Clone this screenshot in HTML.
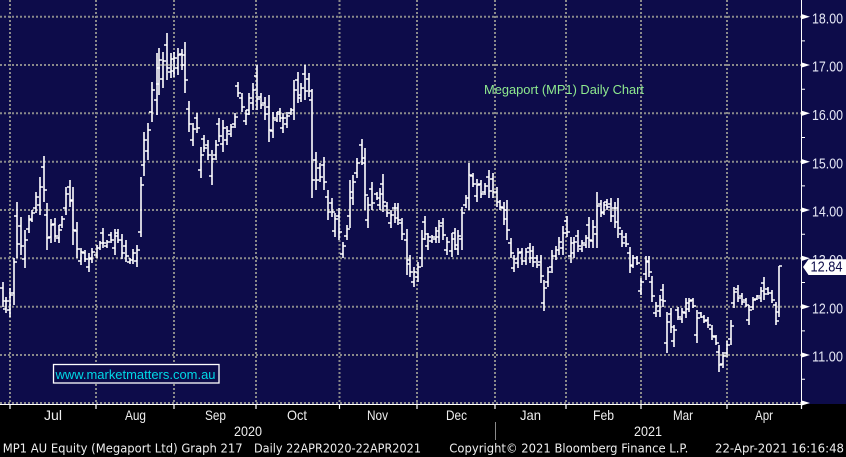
<!DOCTYPE html>
<html><head><meta charset="utf-8"><style>
html,body{margin:0;padding:0;background:#000;}
svg{display:block;}
</style></head><body>
<svg width="846" height="457" viewBox="0 0 846 457" xmlns="http://www.w3.org/2000/svg">
<rect x="0" y="0" width="846" height="457" fill="#000"/>
<rect x="0" y="0" width="846" height="404" fill="#0d0c4a"/>
<!-- grid -->
<g stroke="#8a8a8a" stroke-width="2" stroke-dasharray="2 2" fill="none">
<path d="M0 16.7H801M0 65H801M0 113.3H801M0 161.7H801M0 210H801M0 258.3H801M0 306.7H801M0 355H801M0 403H801"/>
<path d="M10 0V403M96 0V403M174 0V403M256 0V403M339.5 0V403M417 0V403M495 0V403M566 0V403M641 0V403M727 0V403"/>
</g>
<!-- watermark -->
<rect x="53.5" y="364.5" width="165.5" height="18.5" fill="#0d0c4a" stroke="#ffffff" stroke-width="1.3"/>
<text x="55.5" y="378.8" font-family="Liberation Sans, Arial, sans-serif" font-size="13" fill="#00d9e6" textLength="160" lengthAdjust="spacingAndGlyphs">www.marketmatters.com.au</text>
<!-- title -->
<text x="484" y="93.8" font-family="Liberation Sans, Arial, sans-serif" font-size="13" fill="#8fea8f" textLength="160" lengthAdjust="spacingAndGlyphs">Megaport (MP1) Daily Chart</text>
<!-- bars -->
<path fill="none" stroke="#ffffff" stroke-width="1.6" d="M3 282V307M6 297V313M10 288V317M14 258V305M17 202V258M21 217V255M25 230V268M29 215V233M32 210V222M36 192V213M40 177V215M44 156V202M47 203V250M51 219V243M55 218V242M59 225V243M62 216V228M66 187V215M70 180V207M73 187V245M77 222V258M81 248V265M85 250V262M89 253V272M92 248V263M97 245V258M100 241V250M103 228V248M107 240V248M111 232V243M115 229V255M118 229V243M122 234V259M126 240V262M130 258V264M133 249V264M137 245V267M141 177V237M144 132V176M148 123V160M152 82V122M157 53V115M159 48V95M163 52V88M167 33V80M171 53V78M174 52V77M178 48V75M182 49V70M185 42V93M189 101V132M193 123V146M197 113V133M201 147V178M204 135V152M208 140V160M212 150V185M216 140V160M219 118V142M223 120V152M227 126V145M231 124V137M235 113V128M238 82V97M242 93V112M246 110V125M249 93V115M253 83V110M257 65V110M261 93V109M265 97V120M269 95V142M273 112V138M277 112V122M280 108V122M283 113V133M287 112V128M291 108V115M294 80V120M298 72V103M301 83V102M305 65V100M309 73V97M312 89V198M316 152V190M320 163V182M324 157V190M328 190V220M332 198V217M335 213V237M339 208V240M343 242V258M347 225V240M350 180V228M353 175V205M357 158V178M362 139V165M365 148V210M368 197V228M372 182V210M377 192V200M380 188V210M383 174V212M387 202V217M391 210V228M395 203V223M398 203V225M402 218V240M407 229V275M410 255V277M414 267V287M418 262V282M422 230V267M425 216V240M428 233V250M432 235V243M436 227V243M439 220V243M443 218V240M447 237V255M452 233V257M455 228V250M458 230V255M462 207V250M466 195V208M469 163V210M473 173V187M477 179V202M481 180V198M485 183V195M489 170V198M493 173V198M497 187V207M500 200V210M504 202V225M507 200V240M511 238V258M514 255V272M518 248V268M522 248V265M526 248V265M530 243V263M533 246V267M537 255V268M541 255V283M544 280V311M548 267V287M552 250V273M556 246V260M559 237V255M563 226V255M567 216V237M571 237V263M574 237V258M578 230V252M582 240V252M586 235V248M589 217V248M593 220V248M597 192V248M601 200V217M604 202V215M607 199V210M611 198V222M615 202V228M618 198V238M622 230V247M626 233V247M630 247V273M633 255V268M637 256V265M641 278V295M646 256V280M649 256V277M652 276V302M656 302V317M660 295V317M663 284V307M667 312V353M671 308V333M674 325V347M678 307V320M682 308V323M686 298V318M689 298V312M693 298V308M697 310V343M701 312V318M704 315V323M708 317V328M712 325V340M716 335V345M719 345V372M723 352V368M727 341V357M731 320V345M734 287V308M738 285V302M742 293V305M746 298V307M749 305V325M753 297V310M757 295V300M761 287V302M764 277V300M768 287V295M772 290V303M776 302V325M779 266V317"/>
<path fill="none" stroke="#ffffff" stroke-width="1.5" d="M0 288h3M3 301h3M3 309h3M6 301h3M7 310h3M10 295h3M11 293h3M14 262h3M14 216h3M17 244h3M18 226h3M21 246h3M22 259h3M25 240h3M26 229h3M29 220h3M29 219h3M32 213h3M33 208h3M36 197h3M37 205h3M40 187h3M41 167h3M44 190h3M44 215h3M47 238h3M48 237h3M51 225h3M52 224h3M55 236h3M56 238h3M59 230h3M59 225h3M62 219h3M63 208h3M66 194h3M67 187h3M70 200h3M70 201h3M73 230h3M74 231h3M77 249h3M78 261h3M81 252h3M82 253h3M85 259h3M86 267h3M89 258h3M89 259h3M92 252h3M94 255h3M97 248h3M97 248h3M100 243h3M100 233h3M103 243h3M104 246h3M107 242h3M108 235h3M111 240h3M112 248h3M115 236h3M115 233h3M118 240h3M119 240h3M122 253h3M123 246h3M126 256h3M127 262h3M130 260h3M130 260h3M133 253h3M134 261h3M137 250h3M138 232h3M141 185h3M141 165h3M144 140h3M145 151h3M148 130h3M149 112h3M152 90h3M154 100h3M157 68h3M156 84h3M159 60h3M160 79h3M163 61h3M164 45h3M167 68h3M168 72h3M171 59h3M171 71h3M174 58h3M175 68h3M178 55h3M179 54h3M182 65h3M182 55h3M185 80h3M186 109h3M189 124h3M190 140h3M193 129h3M194 118h3M197 128h3M198 170h3M201 155h3M201 139h3M204 148h3M205 145h3M208 155h3M209 176h3M212 159h3M213 155h3M216 145h3M216 124h3M219 136h3M220 144h3M223 128h3M224 140h3M227 131h3M228 134h3M231 127h3M232 124h3M235 117h3M235 86h3M238 93h3M239 98h3M242 107h3M243 121h3M246 114h3M246 110h3M249 98h3M250 103h3M253 90h3M254 76h3M257 99h3M258 97h3M261 105h3M262 103h3M265 114h3M266 107h3M269 130h3M270 131h3M273 118h3M274 120h3M277 114h3M277 112h3M280 118h3M280 128h3M283 118h3M284 124h3M287 116h3M288 113h3M291 110h3M291 110h3M294 90h3M295 80h3M298 95h3M298 98h3M301 88h3M302 74h3M305 91h3M306 79h3M309 91h3M309 100h3M312 180h3M313 160h3M316 180h3M317 168h3M320 177h3M321 165h3M324 182h3M325 197h3M328 212h3M329 203h3M332 212h3M332 231h3M335 219h3M336 216h3M339 232h3M340 254h3M343 246h3M344 236h3M347 229h3M347 216h3M350 192h3M350 198h3M353 182h3M354 173h3M357 163h3M359 145h3M362 158h3M362 163h3M365 195h3M365 220h3M368 205h3M369 189h3M372 203h3M374 194h3M377 198h3M377 205h3M380 194h3M380 184h3M383 202h3M384 206h3M387 213h3M388 223h3M391 215h3M392 208h3M395 218h3M395 208h3M398 220h3M399 223h3M402 234h3M404 240h3M407 264h3M407 260h3M410 272h3M411 282h3M414 272h3M415 277h3M418 267h3M419 258h3M422 239h3M422 222h3M425 234h3M425 246h3M428 237h3M429 241h3M432 237h3M433 239h3M436 231h3M436 237h3M439 226h3M440 223h3M443 235h3M444 250h3M447 242h3M449 251h3M452 239h3M452 233h3M455 245h3M455 249h3M458 236h3M459 239h3M462 213h3M463 205h3M466 198h3M466 198h3M469 175h3M470 176h3M473 184h3M474 196h3M477 185h3M478 184h3M481 194h3M482 192h3M485 186h3M486 177h3M489 191h3M490 179h3M493 192h3M494 192h3M497 202h3M497 202h3M500 207h3M501 208h3M504 219h3M504 210h3M507 230h3M508 243h3M511 253h3M511 268h3M514 259h3M515 263h3M518 253h3M519 252h3M522 261h3M523 261h3M526 252h3M527 248h3M530 258h3M530 251h3M533 262h3M534 258h3M537 265h3M538 262h3M541 276h3M541 303h3M544 288h3M545 282h3M548 272h3M549 267h3M552 256h3M553 256h3M556 250h3M556 250h3M559 242h3M560 248h3M563 233h3M564 221h3M567 232h3M568 256h3M571 243h3M571 253h3M574 242h3M575 236h3M578 246h3M579 249h3M582 243h3M583 245h3M586 238h3M586 225h3M589 240h3M590 241h3M593 227h3M594 234h3M597 206h3M598 204h3M601 213h3M601 212h3M604 205h3M604 202h3M607 207h3M608 204h3M611 216h3M612 208h3M615 222h3M615 208h3M618 228h3M619 234h3M622 243h3M623 237h3M626 244h3M627 253h3M630 266h3M630 265h3M633 258h3M634 258h3M637 263h3M638 291h3M641 282h3M643 274h3M646 262h3M646 261h3M649 272h3M649 282h3M652 296h3M653 313h3M656 306h3M657 311h3M660 300h3M660 290h3M663 301h3M664 343h3M667 322h3M668 314h3M671 327h3M671 341h3M674 330h3M675 310h3M678 317h3M679 319h3M682 312h3M683 313h3M686 303h3M686 309h3M689 301h3M690 300h3M693 306h3M694 335h3M697 318h3M698 313h3M701 317h3M701 317h3M704 321h3M705 320h3M708 325h3M709 329h3M712 336h3M713 337h3M716 343h3M716 352h3M719 365h3M720 364h3M723 356h3M724 353h3M727 345h3M728 339h3M731 326h3M731 303h3M734 292h3M735 289h3M738 298h3M739 296h3M742 302h3M743 300h3M746 305h3M746 320h3M749 310h3M750 307h3M753 300h3M754 299h3M757 296h3M758 298h3M761 291h3M761 283h3M764 294h3M765 289h3M768 293h3M769 293h3M772 300h3M773 305h3M776 321h3M776 312h3M779 266h3"/>
<!-- axes -->
<path d="M801.5 0V405M0 404.5H801.5" stroke="#ffffff" stroke-width="1" fill="none"/>
<path d="M10 404V409M96 404V409M174 404V409M256 404V409M339.5 404V409M417 404V409M495 404V409M566 404V409M641 404V409M727 404V409M801.5 404V409" stroke="#ffffff" stroke-width="1.2" fill="none"/>
<path d="M801 40.9h4M801 89.2h4M801 137.5h4M801 185.9h4M801 234.2h4M801 282.5h4M801 330.9h4M801 379.2h4" stroke="#ffffff" stroke-width="1" fill="none"/>
<g fill="#ffffff">
<polygon points="801,13.9 810,16.7 801,19.5"/>
<polygon points="801,62.2 810,65 801,67.8"/>
<polygon points="801,110.5 810,113.3 801,116.1"/>
<polygon points="801,158.9 810,161.7 801,164.5"/>
<polygon points="801,207.2 810,210 801,212.8"/>
<polygon points="801,255.5 810,258.3 801,261.1"/>
<polygon points="801,303.9 810,306.7 801,309.5"/>
<polygon points="801,352.2 810,355 801,357.8"/>
<polygon points="801,400.2 810,403 801,405.8"/>
</g>
<g font-family="Liberation Sans, Arial, sans-serif" font-size="14.5" fill="#e6e8f6">
<text x="812" y="23.3" textLength="31" lengthAdjust="spacingAndGlyphs">18.00</text>
<text x="812" y="71.6" textLength="31" lengthAdjust="spacingAndGlyphs">17.00</text>
<text x="812" y="120" textLength="31" lengthAdjust="spacingAndGlyphs">16.00</text>
<text x="812" y="168.3" textLength="31" lengthAdjust="spacingAndGlyphs">15.00</text>
<text x="812" y="216.6" textLength="31" lengthAdjust="spacingAndGlyphs">14.00</text>
<text x="812" y="265" textLength="31" lengthAdjust="spacingAndGlyphs">13.00</text>
<text x="812" y="313.3" textLength="31" lengthAdjust="spacingAndGlyphs">12.00</text>
<text x="812" y="361.6" textLength="31" lengthAdjust="spacingAndGlyphs">11.00</text>
</g>
<!-- last price label -->
<polygon points="803,267 808.5,259.3 846,259.3 846,275 808.5,275" fill="#ffffff"/>
<text x="810.5" y="271.7" font-family="Liberation Sans, Arial, sans-serif" font-size="14.5" fill="#0d0c4a" textLength="32" lengthAdjust="spacingAndGlyphs">12.84</text>
<!-- month labels -->
<g font-family="Liberation Sans, Arial, sans-serif" font-size="14" fill="#eeeeee" text-anchor="middle">
<text x="53" y="420" textLength="18" lengthAdjust="spacingAndGlyphs">Jul</text>
<text x="135.5" y="420" textLength="21" lengthAdjust="spacingAndGlyphs">Aug</text>
<text x="215.5" y="420" textLength="21" lengthAdjust="spacingAndGlyphs">Sep</text>
<text x="297" y="420" textLength="20" lengthAdjust="spacingAndGlyphs">Oct</text>
<text x="377.5" y="420" textLength="21" lengthAdjust="spacingAndGlyphs">Nov</text>
<text x="456.5" y="420" textLength="21" lengthAdjust="spacingAndGlyphs">Dec</text>
<text x="530.5" y="420" textLength="21" lengthAdjust="spacingAndGlyphs">Jan</text>
<text x="603.5" y="420" textLength="21" lengthAdjust="spacingAndGlyphs">Feb</text>
<text x="683" y="420" textLength="20" lengthAdjust="spacingAndGlyphs">Mar</text>
<text x="764" y="420" textLength="18" lengthAdjust="spacingAndGlyphs">Apr</text>
<text x="248" y="436" textLength="28" lengthAdjust="spacingAndGlyphs">2020</text>
<text x="648" y="436" textLength="28" lengthAdjust="spacingAndGlyphs">2021</text>
</g>
<path d="M495.5 422V440" stroke="#8a8a8a" stroke-width="1"/>
<!-- footer -->
<g font-family="DejaVu Sans, Liberation Sans, sans-serif" font-size="12" fill="#eeeeee">
<text x="2.7" y="452.5" textLength="240" lengthAdjust="spacingAndGlyphs">MP1 AU Equity (Megaport Ltd) Graph 217</text>
<text x="254" y="452.5" textLength="167" lengthAdjust="spacingAndGlyphs">Daily 22APR2020-22APR2021</text>
<text x="449.3" y="452.5" textLength="239" lengthAdjust="spacingAndGlyphs">Copyright© 2021 Bloomberg Finance L.P.</text>
<text x="715" y="452.5" textLength="129" lengthAdjust="spacingAndGlyphs">22-Apr-2021 16:16:48</text>
</g>
</svg>
</body></html>
